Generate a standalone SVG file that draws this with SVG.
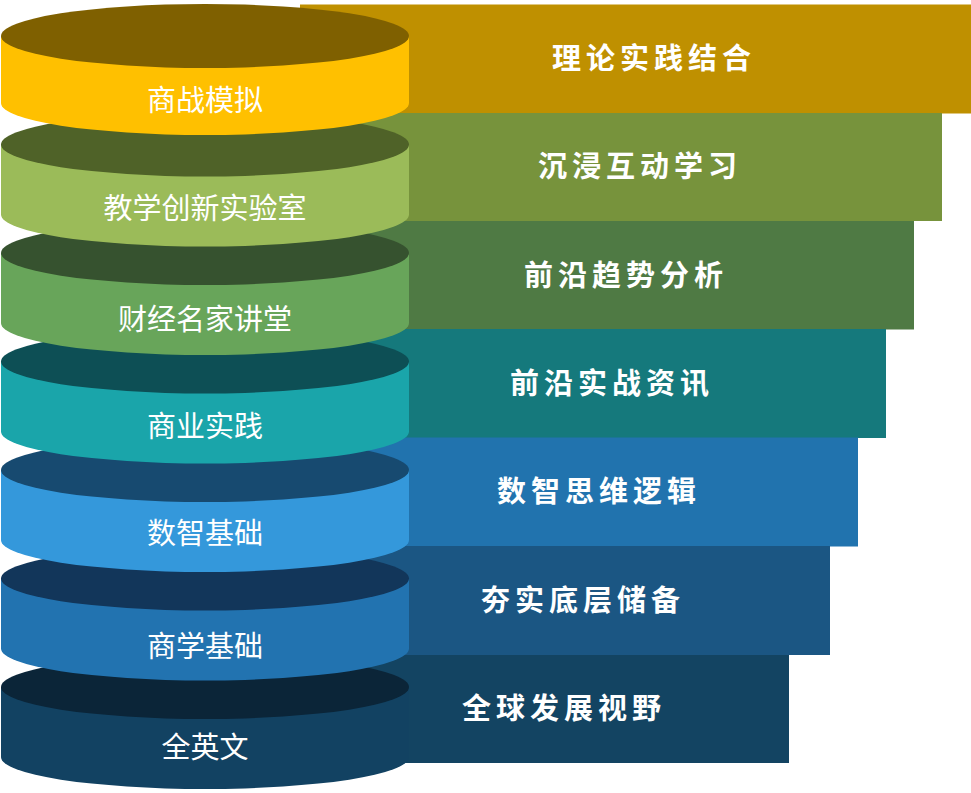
<svg xmlns="http://www.w3.org/2000/svg" width="971" height="793" viewBox="0 0 971 793">
<style>
.cl{font-family:"Noto Sans CJK SC","Noto Sans",sans-serif;font-size:29px;fill:#fff;text-anchor:middle;font-weight:400}
.rl{font-family:"Noto Sans CJK SC","Noto Sans",sans-serif;font-size:29px;fill:#fff;font-weight:700;letter-spacing:5px}
</style>
<rect width="971" height="793" fill="#fff"/>
<g id="bands">
<rect id="band1" x="300" y="4.5" width="671" height="109" fill="#BF9000"/>
<rect id="band2" x="300" y="113" width="642" height="108" fill="#77933C"/>
<rect id="band3" x="300" y="221" width="614" height="108.5" fill="#4F7A44"/>
<rect id="band4" x="300" y="329" width="586" height="109" fill="#15797C"/>
<rect id="band5" x="300" y="437.5" width="558" height="109" fill="#2173AE"/>
<rect id="band6" x="300" y="546" width="530" height="109" fill="#1B5683"/>
<rect id="band7" x="300" y="655" width="489" height="108" fill="#134462"/>
</g>
<g id="band-labels">
<text class="rl" x="552" y="69">理论实践结合</text>
<text class="rl" x="538" y="177">沉浸互动学习</text>
<text class="rl" x="524" y="286">前沿趋势分析</text>
<text class="rl" x="510" y="394">前沿实战资讯</text>
<text class="rl" x="497" y="502">数智思维逻辑</text>
<text class="rl" x="481" y="611">夯实底层储备</text>
<text class="rl" x="462" y="719">全球发展视野</text>
</g>
<g id="cyl7">
<path d="M1,687 V757 A204,32 0 0 0 409,757 V687 Z" fill="#124262"/>
<ellipse cx="205" cy="687" rx="204" ry="32" fill="#0B2538"/>
<text class="cl" x="205" y="758">全英文</text>
</g>
<g id="cyl6">
<path d="M1,578.5 V648.5 A204,32 0 0 0 409,648.5 V578.5 Z" fill="#2273B0"/>
<ellipse cx="205" cy="578.5" rx="204" ry="32" fill="#12365A"/>
<text class="cl" x="205" y="657">商学基础</text>
</g>
<g id="cyl5">
<path d="M1,470 V540 A204,32 0 0 0 409,540 V470 Z" fill="#3498DB"/>
<ellipse cx="205" cy="470" rx="204" ry="32" fill="#174A70"/>
<text class="cl" x="205" y="544">数智基础</text>
</g>
<g id="cyl4">
<path d="M1,361.5 V431.5 A204,32 0 0 0 409,431.5 V361.5 Z" fill="#1AA5AA"/>
<ellipse cx="205" cy="361.5" rx="204" ry="32" fill="#0D4F55"/>
<text class="cl" x="205" y="437">商业实践</text>
</g>
<g id="cyl3">
<path d="M1,253 V323 A204,32 0 0 0 409,323 V253 Z" fill="#68A55A"/>
<ellipse cx="205" cy="253" rx="204" ry="32" fill="#36522F"/>
<text class="cl" x="205" y="330">财经名家讲堂</text>
</g>
<g id="cyl2">
<path d="M1,144.5 V214.5 A204,32 0 0 0 409,214.5 V144.5 Z" fill="#9BBB59"/>
<ellipse cx="205" cy="144.5" rx="204" ry="32" fill="#4F6228"/>
<text class="cl" x="205" y="219">教学创新实验室</text>
</g>
<g id="cyl1">
<path d="M1,36 V103 A204,32 0 0 0 409,103 V36 Z" fill="#FFC000"/>
<ellipse cx="205" cy="36" rx="204" ry="32" fill="#7F6000"/>
<text class="cl" x="205" y="111">商战模拟</text>
</g>
<g id="connectors"/>
</svg>
